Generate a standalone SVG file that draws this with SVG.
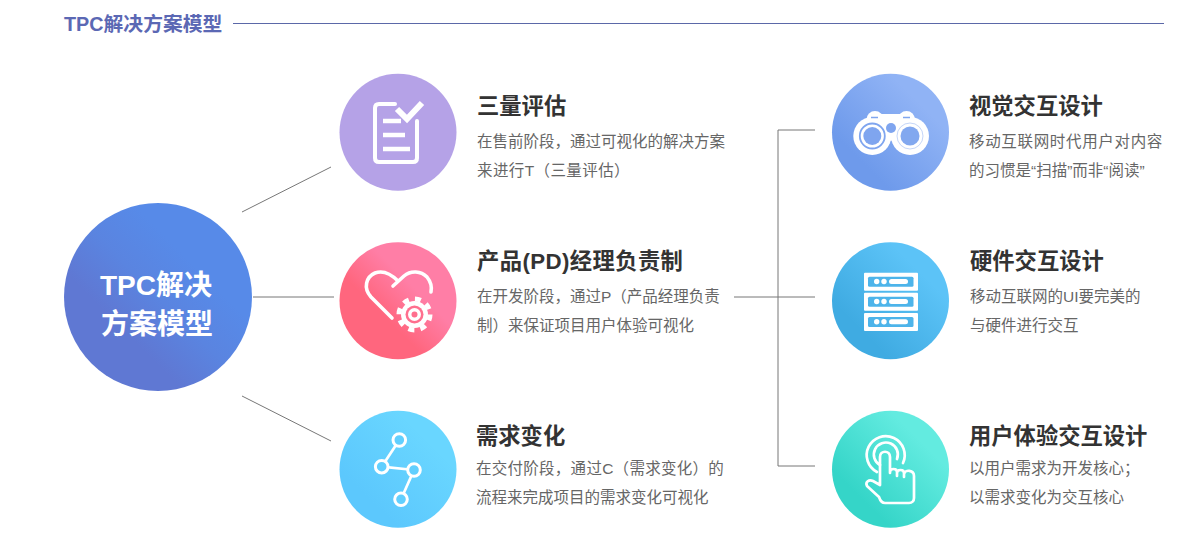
<svg xmlns="http://www.w3.org/2000/svg" width="1194" height="546" viewBox="0 0 1194 546">
<style>
text{font-family:"Liberation Sans","Noto Sans CJK SC",sans-serif}
.h{font-size:22.3px;font-weight:700;fill:#333}
.d{font-size:15.5px;fill:#666}
.c{fill:none;stroke:#777;stroke-width:1}
.w{fill:none;stroke:#fff;stroke-width:3.6;stroke-linecap:round;stroke-linejoin:round}
.t{fill:none;stroke:#fff;stroke-width:2.7;stroke-linecap:round;stroke-linejoin:round}
.f{fill:#fff}
.s{fill:#4db4ea}
</style>
<defs>
<linearGradient id="g0" x1="0.2" y1="0.8" x2="0.8" y2="0.2"><stop offset="0.2" stop-color="#5f78d3"/><stop offset="0.5" stop-color="#5a84e0"/><stop offset="0.8" stop-color="#578ae8"/></linearGradient>
<linearGradient id="g2" x1="0.25" y1="0.75" x2="0.75" y2="0.25"><stop offset="0.25" stop-color="#ff667e"/><stop offset="0.75" stop-color="#ff7ea6"/></linearGradient>
<linearGradient id="g3" x1="0.25" y1="0.75" x2="0.75" y2="0.25"><stop offset="0" stop-color="#5cc8fd"/><stop offset="1" stop-color="#69d6ff"/></linearGradient>
<linearGradient id="g4" x1="0.25" y1="0.75" x2="0.75" y2="0.25"><stop offset="0" stop-color="#6e9aeb"/><stop offset="1" stop-color="#90b3f5"/></linearGradient>
<linearGradient id="g5" x1="0.25" y1="0.75" x2="0.75" y2="0.25"><stop offset="0" stop-color="#3fabe2"/><stop offset="1" stop-color="#5cc3f7"/></linearGradient>
<linearGradient id="g6" x1="0.25" y1="0.75" x2="0.75" y2="0.25"><stop offset="0" stop-color="#35d5c8"/><stop offset="1" stop-color="#63ebe0"/></linearGradient>
</defs>
<g id="title">
<text x="64" y="31" font-size="19.8" font-weight="700" fill="#5b68b4">TPC解决方案模型</text>
<line x1="233" y1="23.5" x2="1164" y2="23.5" stroke="#5b68a8" stroke-width="1"/>
</g>
<g id="connectors">
<path class="c" d="M242 212L331 167"/>
<path class="c" d="M253 297H334"/>
<path class="c" d="M242 396L331 441"/>
<path class="c" d="M734 297H815"/>
<path class="c" d="M815 130H778V466H815"/>
</g>
<g id="center">
<circle cx="158" cy="297" r="94" fill="url(#g0)"/>
<text x="156" y="294.500" font-size="28" font-weight="700" fill="#fff" text-anchor="middle">TPC解决</text>
<text x="157" y="333.500" font-size="28" font-weight="700" fill="#fff" text-anchor="middle">方案模型</text>
</g>
<g id="node-assess">
<circle cx="398" cy="132.300" r="58.500" fill="#b5a2e7"/>
<path class="w" style="stroke-width:4" d="M395 104H379Q375 104 375 108V158Q375 162 379 162H413Q417 162 417 158V121"/>
<path class="w" style="stroke-width:6;stroke-linecap:butt;stroke-linejoin:miter" d="M397 109L407 119L422 103"/>
<path class="w" style="stroke-width:4.500;stroke-linecap:butt" d="M383 121H401M383 135H405M383 149H410"/>
<text class="h" x="477" y="114">三量评估</text>
<text class="d" x="477" y="147">在售前阶段，通过可视化的解决方案</text>
<text class="d" x="477" y="176" style="letter-spacing:.4px">来进行T（三量评估）</text>
</g>
<g id="node-pd">
<circle cx="398" cy="300.800" r="58.500" fill="url(#g2)"/>
<path class="w" d="M392 318L371 297C363 288 366 277 375 273C383 270 390 273 398 281M393 286L404 276C411 270 421 271 427 277C431 282 432 287 431 292"/>
<circle cx="414.500" cy="314.500" r="15.500" fill="none" stroke="#fff" stroke-width="5" stroke-dasharray="6 6.170"/>
<circle cx="414.500" cy="314.500" r="13.500" class="f"/>
<circle cx="414.500" cy="314.500" r="9" fill="#ff6f8e"/>
<circle cx="414.500" cy="314.500" r="6.500" class="f"/>
<circle cx="414.500" cy="314.500" r="3" fill="#ff6f8e"/>
<text class="h" x="477" y="269" style="letter-spacing:.4px">产品(PD)经理负责制</text>
<text class="d" x="477" y="302">在开发阶段，通过P（产品经理负责</text>
<text class="d" x="477" y="331">制）来保证项目用户体验可视化</text>
</g>
<g id="node-change">
<circle cx="398" cy="469.300" r="58.500" fill="url(#g3)"/>
<path class="t" d="M399.300 440L381.700 466.700L414 470L401 499.300"/>
<g fill="#61cffe" stroke="#fff" stroke-width="3"><circle cx="399.300" cy="440" r="6.300"/><circle cx="381.700" cy="466.700" r="6.300"/><circle cx="414" cy="470" r="6.300"/><circle cx="401" cy="499.300" r="6.300"/></g>
<text class="h" x="476" y="444">需求变化</text>
<text class="d" x="476" y="474" style="letter-spacing:.27px">在交付阶段，通过C（需求变化）的</text>
<text class="d" x="476" y="503">流程来完成项目的需求变化可视化</text>
</g>
<g id="node-visual">
<circle cx="890.500" cy="132.300" r="58.500" fill="url(#g4)"/>
<circle cx="872.300" cy="136" r="19" class="f"/><circle cx="910" cy="136" r="19" class="f"/>
<circle cx="875" cy="119.500" r="8.500" class="f"/><circle cx="906.500" cy="119.500" r="8.500" class="f"/>
<path class="f" d="M875 114H906.500V128L891 141L875 128Z"/>
<path d="M871 117.500H878M903 117.500H910" stroke="#80a6ef" stroke-width="1.500" fill="none"/>
<circle cx="872.300" cy="136" r="12.500" fill="none" stroke="#7fa5ef" stroke-width="1.800"/>
<circle cx="872.300" cy="136" r="9" fill="#7fa5ef"/>
<circle cx="910" cy="136" r="13" fill="none" stroke="#c5d6f8" stroke-width="1"/>
<circle cx="910" cy="136" r="9.500" fill="#82a8ef"/>
<circle cx="891" cy="128" r="5" fill="#7fa5ef"/>
<text class="h" x="969" y="114">视觉交互设计</text>
<text class="d" x="969" y="147" style="letter-spacing:.67px">移动互联网时代用户对内容</text>
<text class="d" x="969" y="176">的习惯是“扫描”而非“阅读”</text>
</g>
<g id="node-hardware">
<circle cx="890.500" cy="300.800" r="58.500" fill="url(#g5)"/>
<rect x="864" y="272.700" width="54" height="18" class="f" rx="1"/><rect x="868" y="276.700" width="45.500" height="10" class="s" rx="1.500"/>
<circle cx="876.700" cy="281.500" r="2.700" class="f"/><circle cx="884" cy="281.500" r="2.700" class="f"/><rect x="889" y="279" width="19" height="5" rx="2.500" class="f"/>
<rect x="864" y="292.700" width="54" height="18" class="f" rx="1"/><rect x="868" y="296.700" width="45.500" height="10" class="s" rx="1.500"/>
<circle cx="876.700" cy="301.500" r="2.700" class="f"/><circle cx="884" cy="301.500" r="2.700" class="f"/><rect x="889" y="299" width="19" height="5" rx="2.500" class="f"/>
<rect x="864" y="313" width="54" height="18" class="f" rx="1"/><rect x="868" y="317" width="45.500" height="10" class="s" rx="1.500"/>
<circle cx="876.700" cy="321.800" r="2.700" class="f"/><circle cx="884" cy="321.800" r="2.700" class="f"/><rect x="889" y="319.300" width="19" height="5" rx="2.500" class="f"/>
<text class="h" x="970" y="269">硬件交互设计</text>
<text class="d" x="970" y="302">移动互联网的UI要完美的</text>
<text class="d" x="970" y="331">与硬件进行交互</text>
</g>
<g id="node-ux">
<circle cx="890.500" cy="469.300" r="58.500" fill="url(#g6)"/>
<path class="t" d="M877 472A19 19 0 1 1 903 463"/>
<path class="t" d="M880 465A12 12 0 1 1 897 459"/>
<path class="t" d="M879 497L867 486C865 482 869 479 873 481L880 485V457C880 450 890 450 890 457V471M890 471V473M890 472C890 468 897 468 897 472V476M897 473C897 469 904 469 904 473V477M904 474C905 469 914 470 914 476V498C914 501 912 503 909 503H885C882 503 880 500 879 497"/>
<text class="h" x="969" y="444">用户体验交互设计</text>
<text class="d" x="969" y="474">以用户需求为开发核心；</text>
<text class="d" x="969" y="503">以需求变化为交互核心</text>
</g>
</svg>
